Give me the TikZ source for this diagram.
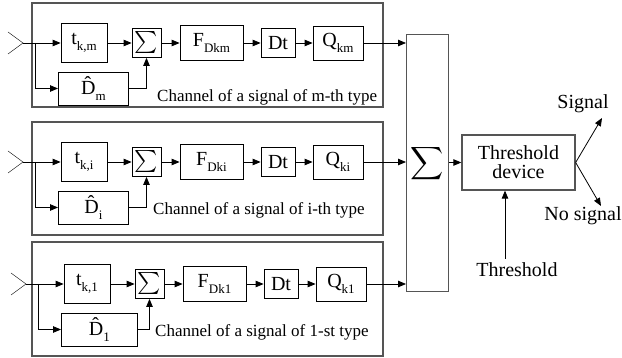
\documentclass[tikz,border=0pt]{standalone}
\usepackage{fontspec}
\setmainfont{Liberation Serif}
\usetikzlibrary{arrows.meta}
\definecolor{pgray}{RGB}{85,85,85}
\newcommand\mysub[1]{\raisebox{-0.28em}{\fontsize{13}{13}\selectfont #1}}
\newcommand\smallsum{\raisebox{-0.1em}{\scalebox{2.2}{$\sum$}}}
\newcommand\chan[6]{%
 \begin{scope}[shift={(#3,#2)}]
  \coordinate (#1a) at (23,0);
  \coordinate (#1u) at (8,-11);
  \coordinate (#1l) at (8,11);
  \coordinate (#1b) at (35,0);
  \node[blk, minimum width=46pt, minimum height=39pt] (#1tk) at (84,0) {t\mysub{k,#4}};
  \node[blk, minimum width=#6pt, minimum height=33pt, anchor=west] (#1D) at (58,45.5) {\^{D}\mysub{#4}};
  \node[blk, minimum width=29pt, minimum height=29pt] (#1s) at (146.5,0) {\smallsum};
  \node[blk, minimum width=63pt, minimum height=35pt] (#1F) at (211.5,0) {F\mysub{D#5}};
  \node[blk, minimum width=34pt, minimum height=29pt] (#1Dt) at (278,0) {Dt};
  \node[blk, minimum width=50pt, minimum height=34pt] (#1Q) at (338,0) {Q\mysub{#5}};
 \end{scope}
 \draw[thin] (#1u) -- (#1a) -- (#1l);
 \draw[arr] (#1a) -- (#1tk);
 \draw[arr] (#1b) |- (#1D);
 \draw[arr] (#1D) -| (#1s);
 \draw[arr] (#1tk) -- (#1s);
 \draw[arr] (#1s) -- (#1F);
 \draw[arr] (#1F) -- (#1Dt);
 \draw[arr] (#1Dt) -- (#1Q);
 \draw[arr] (#1Q.east) -- (#1Q.east -| bigsum.west);
}
\begin{document}
\begin{tikzpicture}[x=1pt, y=-1pt,
  blk/.style={draw=black, line width=0.8pt, inner sep=0pt, font=\fontsize{20}{22}\selectfont},
  arr/.style={-{Triangle[length=8pt,width=6.5pt]}, line width=0.8pt},
  panelbox/.style={draw=pgray, line width=1.5pt},
  chtext/.style={font=\fontsize{17}{19}\selectfont, inner sep=0pt, anchor=west},
  lbl/.style={font=\fontsize{20}{22}\selectfont, inner sep=0pt, align=center}]
\useasboundingbox (0,0) rectangle (622,358);
% panels
\draw[panelbox] (32,3) rectangle (383,107);
\draw[panelbox] (32,122) rectangle (383,235);
\draw[panelbox] (32,242) rectangle (383,356);
% big sum
\node[draw=pgray, line width=1.3pt, minimum width=42pt, minimum height=257pt, inner sep=0pt, anchor=north west] (bigsum) at (406,34) {};
\node[inner sep=0pt] (bigsig) at (427,164) {\scalebox{2.3}{$\displaystyle\sum$}};
% channels
\chan{m}{43}{0}{m}{km}{70}
\chan{i}{162}{0}{i}{ki}{70}
\chan{o}{284}{3}{1}{k1}{76}
\node[chtext] (mtxt) at (157,97) {Channel of a signal of m-th type};
\node[chtext] (itxt) at (153,210) {Channel of a signal of i-th type};
\node[chtext] (otxt) at (155,332) {Channel of a signal of 1-st type};
% threshold device
\node[draw=pgray, line width=1.3pt, minimum width=113pt, minimum height=55pt, inner sep=0pt, lbl] (thr) at (518.5,162.5) {Threshold\\[-3pt]device};
\draw[arr] (bigsum.east |- thr) -- (thr);
\coordinate (sigend) at (602,118);
\coordinate (nosigend) at (601,206);
\draw[arr] (thr.east) -- (sigend);
\draw[arr] (thr.east) -- (nosigend);
\node[lbl] (siglbl) at (583,104) {Signal};
\node[lbl] (nosiglbl) at (583,216) {No signal};
\node[lbl] (thrlbl) at (517,270) {Threshold};
\coordinate (thrstart) at (505,259);
\draw[arr] (thrstart) -- (thrstart |- thr.south);
\end{tikzpicture}
\end{document}
